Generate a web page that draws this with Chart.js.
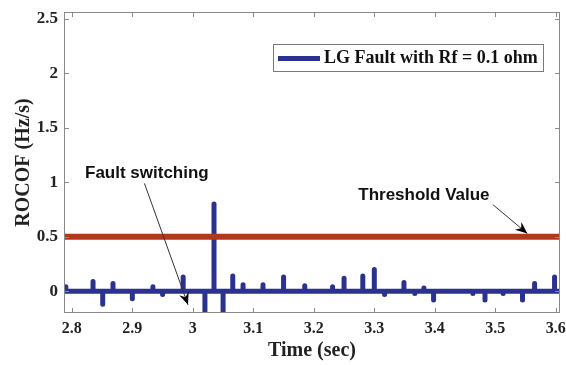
<!DOCTYPE html>
<html>
<head>
<meta charset="utf-8">
<script src="https://cdn.jsdelivr.net/npm/chart.js@4.4.1/dist/chart.umd.min.js"></script>
<style>
  html, body { margin: 0; padding: 0; background: #fff; }
  #wrap { width: 566px; height: 365px; position: relative; }
</style>
</head>
<body>
<div id="wrap"><canvas id="grafico"></canvas></div>
<script>
// axis ranges and ticks
const xMin = 2.787;
const xMax = 3.607;
const yMin = -0.2;
const yMax = 2.564;
const xTicks = [2.8, 2.9, 3.0, 3.1, 3.2, 3.3, 3.4, 3.5, 3.6];
const yTicks = [0, 0.5, 1, 1.5, 2, 2.5];

// ROCOF spikes (time in sec, value in Hz/s)
const spikeTimes = [2.79, 2.835, 2.851, 2.868, 2.900, 2.934, 2.950, 2.984, 3.020, 3.035, 3.050, 3.066, 3.083, 3.116, 3.150, 3.185,
                    3.231, 3.250, 3.281, 3.300, 3.317, 3.349, 3.367, 3.382, 3.398, 3.463, 3.483, 3.513, 3.545, 3.565, 3.598];
const spikeValues = [0.04, 0.09, -0.12, 0.07, -0.07, 0.04, -0.03, 0.13, -0.25, 0.80, -0.25, 0.14, 0.06, 0.06, 0.13, 0.05,
                     0.04, 0.12, 0.14, 0.20, -0.03, 0.08, -0.02, 0.03, -0.08, -0.02, -0.08, -0.02, -0.08, 0.07, 0.13];
const thresholdValue = 0.5;

const legendText = 'LG Fault with Rf = 0.1 ohm';
const blue = '#2a3190';
const red = '#b2381c';

// baseline with the spikes as vertical strokes
const rocof = [{ x: xMin, y: 0 }];
spikeTimes.forEach((t, i) => {
    rocof.push({ x: t, y: 0 }, { x: t, y: spikeValues[i] }, { x: t, y: 0 });
});
rocof.push({ x: xMax, y: 0 });

const threshold = [{ x: xMin, y: thresholdValue }, { x: xMax, y: thresholdValue }];

const notes = [
    { text: 'Fault switching', tx: 2.924, ty: 1.085, from: [2.92, 0.99], to: [2.992, -0.125] },
    { text: 'Threshold Value', tx: 3.382, ty: 0.885, from: [3.496, 0.795], to: [3.553, 0.53] },
];

const serif = '"Liberation Serif", "Times New Roman", serif';
const sans = '"Liberation Sans", Arial, sans-serif';

const extras = {
    id: 'extras',
    afterDraw(chart) {
        const ctx = chart.ctx;
        const a = chart.chartArea;
        const xs = chart.scales.x, ys = chart.scales.y;
        ctx.save();
        // box
        ctx.strokeStyle = '#8a8a8a';
        ctx.lineWidth = 1;
        ctx.strokeRect(a.left + 0.5, a.top + 0.5, a.right - a.left - 1, a.bottom - a.top - 1);
        // inward ticks on all four sides
        ctx.beginPath();
        xTicks.forEach(v => {
            const px = Math.round(xs.getPixelForValue(v)) + 0.5;
            ctx.moveTo(px, a.bottom); ctx.lineTo(px, a.bottom - 5);
            ctx.moveTo(px, a.top); ctx.lineTo(px, a.top + 5);
        });
        yTicks.forEach(v => {
            const py = Math.round(ys.getPixelForValue(v)) + 0.5;
            ctx.moveTo(a.left, py); ctx.lineTo(a.left + 5, py);
            ctx.moveTo(a.right, py); ctx.lineTo(a.right - 5, py);
        });
        ctx.stroke();

        // legend
        const lx = 273, ly = 44, lw = 270, lh = 27;
        ctx.fillStyle = '#fff';
        ctx.fillRect(lx, ly, lw, lh);
        ctx.strokeStyle = '#7a7a7a';
        ctx.strokeRect(lx + 0.5, ly + 0.5, lw, lh);
        ctx.strokeStyle = blue;
        ctx.lineWidth = 5;
        ctx.beginPath();
        ctx.moveTo(278, ly + lh / 2 + 1); ctx.lineTo(320, ly + lh / 2 + 1);
        ctx.stroke();
        ctx.fillStyle = '#111';
        ctx.font = 'bold 18px ' + serif;
        ctx.textBaseline = 'middle';
        ctx.textAlign = 'left';
        ctx.fillText(legendText, 324, ly + lh / 2 + 1);

        // annotations with arrows
        notes.forEach(n => {
            ctx.font = 'bold 17px ' + sans;
            ctx.textAlign = 'center';
            ctx.fillStyle = '#111';
            ctx.fillText(n.text, xs.getPixelForValue(n.tx), ys.getPixelForValue(n.ty));
            const x1 = xs.getPixelForValue(n.from[0]), y1 = ys.getPixelForValue(n.from[1]);
            const x2 = xs.getPixelForValue(n.to[0]), y2 = ys.getPixelForValue(n.to[1]);
            const ang = Math.atan2(y2 - y1, x2 - x1);
            ctx.strokeStyle = '#333';
            ctx.lineWidth = 1;
            ctx.beginPath();
            ctx.moveTo(x1, y1); ctx.lineTo(x2, y2);
            ctx.stroke();
            ctx.fillStyle = '#000';
            ctx.beginPath();
            ctx.moveTo(x2, y2);
            ctx.lineTo(x2 - 12 * Math.cos(ang) + 5 * Math.sin(ang), y2 - 12 * Math.sin(ang) - 5 * Math.cos(ang));
            ctx.lineTo(x2 - 8 * Math.cos(ang), y2 - 8 * Math.sin(ang));
            ctx.lineTo(x2 - 12 * Math.cos(ang) - 5 * Math.sin(ang), y2 - 12 * Math.sin(ang) + 5 * Math.cos(ang));
            ctx.closePath();
            ctx.fill();
        });
        ctx.restore();
    }
};

const ctx = document.getElementById('grafico').getContext('2d');
new Chart(ctx, {
    type: 'line',
    data: {
        datasets: [
            {
                label: 'Threshold',
                data: threshold,
                borderColor: red,
                borderWidth: 6,
                pointRadius: 0,
                clip: 0,
            },
            {
                label: legendText,
                data: rocof,
                borderColor: blue,
                borderWidth: 5,
                borderCapStyle: 'round',
                borderJoinStyle: 'round',
                pointRadius: 0,
                tension: 0,
                clip: 0,
            },
        ],
    },
    options: {
        responsive: true,
        maintainAspectRatio: false,
        animation: false,
        layout: { padding: { top: 12, right: 6, left: 0, bottom: 0 } },
        plugins: {
            legend: { display: false },
            tooltip: { enabled: false },
        },
        scales: {
            x: {
                type: 'linear',
                min: xMin,
                max: xMax,
                afterBuildTicks: s => { s.ticks = xTicks.map(v => ({ value: v })); },
                afterFit: s => { s.height = 52; s.paddingLeft = 0; s.paddingRight = 0; },
                grid: { display: false, drawTicks: false },
                border: { display: false },
                ticks: {
                    padding: 6,
                    color: '#222',
                    font: { family: serif, size: 16, weight: 'bold' },
                    callback: v => String(Math.round(v * 10) / 10),
                },
                title: {
                    display: true,
                    text: 'Time (sec)',
                    color: '#222',
                    font: { family: serif, size: 20, weight: 'bold' },
                    padding: { top: 0, bottom: 2 },
                },
            },
            y: {
                min: yMin,
                max: yMax,
                afterBuildTicks: s => { s.ticks = yTicks.map(v => ({ value: v })); },
                afterFit: s => { s.width = 64; s.paddingTop = 0; s.paddingBottom = 0; },
                grid: { display: false, drawTicks: false },
                border: { display: false },
                ticks: {
                    padding: 6,
                    color: '#222',
                    font: { family: serif, size: 17, weight: 'bold' },
                    callback: v => String(v),
                },
                title: {
                    display: true,
                    text: 'ROCOF (Hz/s)',
                    color: '#222',
                    font: { family: serif, size: 20, weight: 'bold' },
                    padding: { top: 12, bottom: 0 },
                },
            },
        },
    },
    plugins: [extras],
});
</script>
</body>
</html>
